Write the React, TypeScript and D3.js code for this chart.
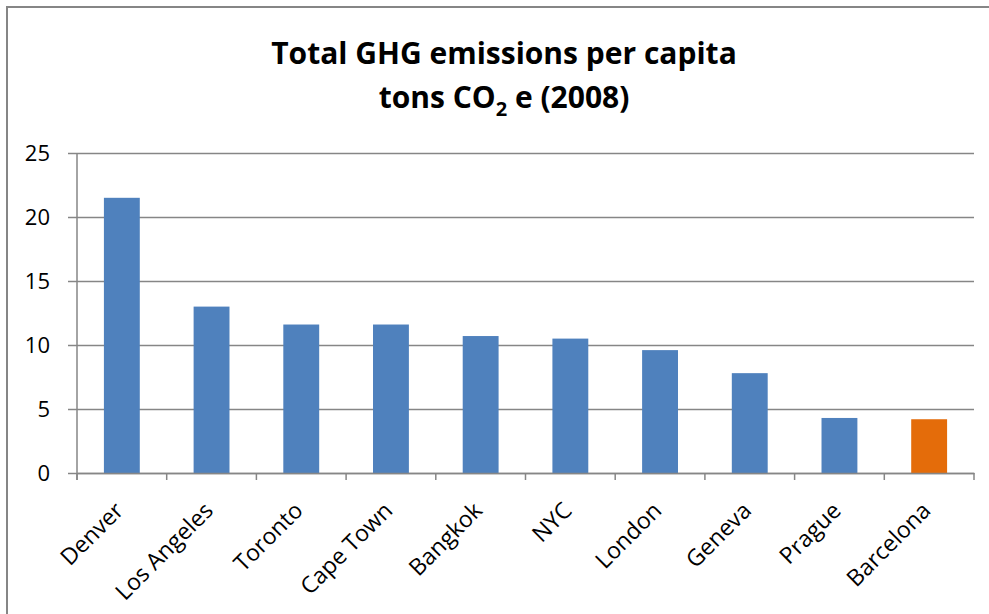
import { useEffect, useRef } from 'react';
import * as d3 from 'd3';

const cities = [
  'Denver',
  'Los Angeles',
  'Toronto',
  'Cape Town',
  'Bangkok',
  'NYC',
  'London',
  'Geneva',
  'Prague',
  'Barcelona',
];
const emissions = [21.5, 13.0, 11.6, 11.6, 10.7, 10.5, 9.6, 7.8, 4.3, 4.2];
const highlighted = ['Barcelona'];
const yTicks = [0, 5, 10, 15, 20, 25];

const App = () => {
  const svgRef = useRef(null);

  useEffect(() => {
    const svg = d3.select(svgRef.current);
    svg.selectAll('*').remove();

    const width = 989;
    const height = 614;
    const margin = { top: 153, right: 15, bottom: 141, left: 77 };
    const font = '"Open Sans", sans-serif';
    const gridColor = '#868686';

    const data = cities.map((c, i) => ({ city: c, value: emissions[i] }));

    const x = d3
      .scaleBand()
      .domain(cities)
      .range([margin.left, width - margin.right])
      .padding(0);

    const y = d3
      .scaleLinear()
      .domain([0, 25])
      .range([height - margin.bottom, margin.top]);

    // рамка (видны только левая и верхняя стороны)
    svg
      .append('path')
      .attr('d', `M7,${height} V7 H${width}`)
      .attr('fill', 'none')
      .attr('stroke', gridColor)
      .attr('stroke-width', 2);

    // заголовок
    const title = svg
      .append('text')
      .attr('text-anchor', 'middle')
      .style('font-family', font)
      .style('font-weight', 'bold')
      .style('font-size', '30px')
      .attr('fill', '#000');
    title.append('tspan').attr('x', 504).attr('y', 64).text('Total GHG emissions per capita');
    const line2 = title.append('tspan').attr('x', 504).attr('y', 108);
    line2.append('tspan').text('tons CO');
    line2.append('tspan').attr('dy', 8).style('font-size', '20px').text('2');
    line2.append('tspan').attr('dy', -8).text(' e (2008)');

    // сетка и ось Y
    const yAxis = d3
      .axisLeft(y)
      .tickValues(yTicks)
      .tickSize(-(width - margin.right - margin.left))
      .tickSizeOuter(0)
      .tickPadding(27)
      .tickFormat((d) => String(d));

    const gy = svg
      .append('g')
      .attr('transform', `translate(${margin.left},0)`)
      .call(yAxis);
    gy.select('.domain').remove();
    gy.selectAll('.tick line')
      .attr('x1', -9)
      .attr('stroke', gridColor)
      .attr('stroke-width', 1.5);
    gy.selectAll('.tick text')
      .style('font-family', font)
      .style('font-size', '22px')
      .attr('fill', '#000');

    // вертикальная линия оси
    svg
      .append('line')
      .attr('x1', margin.left)
      .attr('x2', margin.left)
      .attr('y1', margin.top)
      .attr('y2', y(0) + 7)
      .attr('stroke', gridColor)
      .attr('stroke-width', 1.5);

    // столбцы
    const barW = x.bandwidth() * 0.4;
    svg
      .selectAll('rect.bar')
      .data(data)
      .enter()
      .append('rect')
      .attr('class', 'bar')
      .attr('x', (d) => x(d.city)! + (x.bandwidth() - barW) / 2)
      .attr('y', (d) => y(d.value))
      .attr('width', barW)
      .attr('height', (d) => y(0) - y(d.value))
      .attr('fill', (d) => (highlighted.includes(d.city) ? '#e46c0a' : '#4f81bd'));

    // ось X
    const xAxis = d3.axisBottom(x).tickSize(0).tickFormat(() => '');
    const gx = svg
      .append('g')
      .attr('transform', `translate(0,${y(0)})`)
      .call(xAxis);
    gx.select('.domain').attr('stroke', gridColor).attr('stroke-width', 1.5);

    // риски между категориями
    const boundaries = cities.map((c) => x(c)!).concat([width - margin.right]);
    svg
      .selectAll('line.xtick')
      .data(boundaries)
      .enter()
      .append('line')
      .attr('class', 'xtick')
      .attr('x1', (d) => d)
      .attr('x2', (d) => d)
      .attr('y1', y(0))
      .attr('y2', y(0) + 7)
      .attr('stroke', gridColor)
      .attr('stroke-width', 1.5);

    // подписи категорий, повернутые на -45
    svg
      .selectAll('text.xlabel')
      .data(cities)
      .enter()
      .append('text')
      .attr('class', 'xlabel')
      .attr(
        'transform',
        (d) => `translate(${x(d)! + x.bandwidth() / 2 + 3},${y(0) + 39}) rotate(-45)`
      )
      .attr('text-anchor', 'end')
      .style('font-family', font)
      .style('font-size', '23px')
      .attr('fill', '#000')
      .text((d) => d);
  }, []);

  return (
    <svg
      ref={svgRef}
      width={989}
      height={614}
      style={{ position: 'absolute', left: 0, top: 0, background: '#fff' }}
    ></svg>
  );
};

export default App;
